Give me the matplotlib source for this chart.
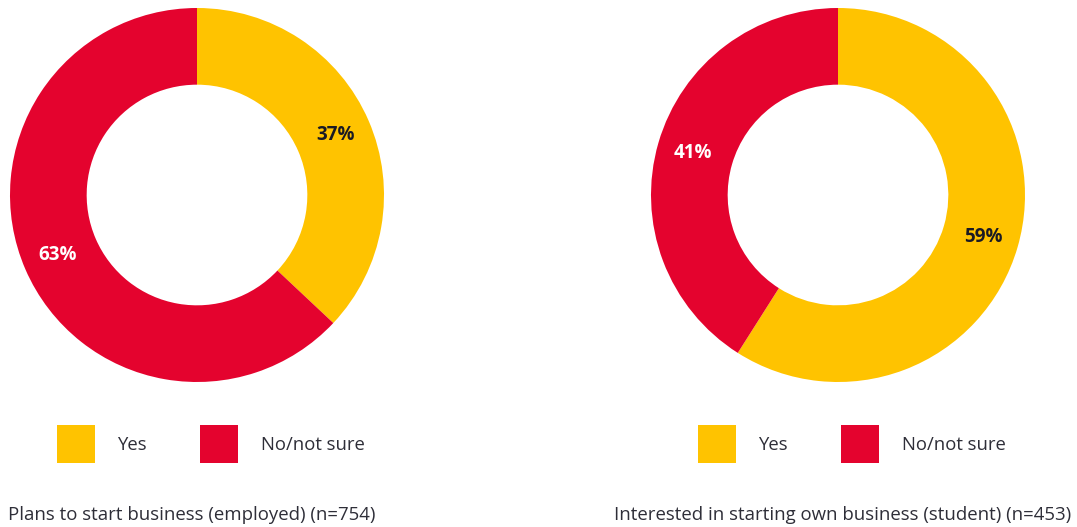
import matplotlib
matplotlib.use("Agg")
import matplotlib.pyplot as plt
from matplotlib.patches import Patch

# data
categories = ["Yes", "No/not sure"]
employed_values = [37, 63]
student_values = [59, 41]
titles = ["Plans to start business (employed) (n=754)",
          "Interested in starting own business (student) (n=453)"]

colors = ["#FFC300", "#E4032E"]
label_colors = ["#1A1A24", "white"]
text_color = "#2E2E38"

plt.rcParams["font.family"] = ["Open Sans", "DejaVu Sans"]

W, H = 1077, 527
fig = plt.figure(figsize=(W / 100, H / 100), dpi=100)

# pixel layout: donut box, legend spot, caption spot
layout = [
    {"box": (10, 8, 374), "legend": (57, 444), "caption": (8, 515)},
    {"box": (651, 8, 374), "legend": (698, 444), "caption": (614, 515)},
]

for values, title, lay in zip([employed_values, student_values], titles, layout):
    x0, y0, size = lay["box"]
    ax = fig.add_axes([x0 / W, 1 - (y0 + size) / H, size / W, size / H])
    wedges, texts, autotexts = ax.pie(
        values, colors=colors, startangle=90, counterclock=False,
        radius=1.0, wedgeprops=dict(width=0.41, linewidth=0),
        autopct=lambda p: "%d%%" % round(p), pctdistance=0.81,
    )
    for t, c in zip(autotexts, label_colors):
        t.set_color(c)
        t.set_fontsize(13.5)
        t.set_fontweight("bold")
    ax.set_xlim(-1, 1)
    ax.set_ylim(-1, 1)
    ax.set_aspect("equal")
    ax.axis("off")

    handles = [Patch(facecolor=c, edgecolor="none") for c in colors]
    lx, ly = lay["legend"]
    leg = fig.legend(
        handles, categories, ncol=2, frameon=False,
        loc="center left", bbox_to_anchor=(lx / W, 1 - ly / H),
        fontsize=13.3, handlelength=2.06, handleheight=2.75,
        handletextpad=1.2, columnspacing=2.9, borderpad=0, borderaxespad=0,
    )
    for t in leg.get_texts():
        t.set_color(text_color)

    cx, cy = lay["caption"]
    fig.text(cx / W, 1 - cy / H, title, fontsize=13.4, color=text_color,
             ha="left", va="center")

fig.savefig("out.png", dpi=100)
